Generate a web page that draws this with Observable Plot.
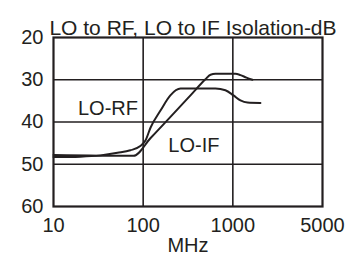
<!DOCTYPE html>
<html>
<head>
<meta charset="utf-8">
<script src="https://cdn.jsdelivr.net/npm/d3@7"></script>
<script src="https://cdn.jsdelivr.net/npm/@observablehq/plot@0.6"></script>
<style>
  html, body { margin: 0; padding: 0; background: #fff; }
</style>
</head>
<body>
<div id="chart"></div>
<script>
const title = "LO to RF, LO to IF Isolation-dB";
const xLabel = "MHz";

// LO-RF curve (MHz, dB)
const rfFreq = [10, 20, 33.4, 51.7, 72, 93, 106, 121, 156, 201, 261, 640, 826, 1016, 1216, 1456, 2031];
const rfDb   = [48.3, 48.2, 47.9, 47.3, 46.7, 45.7, 44.4, 41.3, 37.3, 33.7, 32.1, 32.1, 32.5, 33.7, 34.9, 35.4, 35.5];

// LO-IF curve (MHz, dB)
const ifFreq = [10, 78, 121, 337, 495, 564, 640, 1069, 1216, 1419, 1655];
const ifDb   = [47.8, 48.0, 43.8, 33.7, 29.9, 28.8, 28.6, 28.6, 28.9, 29.5, 30.0];

// axes
const xTicks = [10, 100, 1000, 10000];
const xTickLabels = ["10", "100", "1000", "5000"];
const yTicks = [20, 30, 40, 50, 60];
const xGrid = [100, 1000];
const yGrid = [30, 40, 50];

// curve labels
const curveLabels = ["LO-RF", "LO-IF"];
const labelFreq = [40.5, 368];
const labelDb = [36.9, 45.6];

const ink = "#231f20";
const rf = rfFreq.map((f, i) => ({f, db: rfDb[i]}));
const lif = ifFreq.map((f, i) => ({f, db: ifDb[i]}));
const labels = curveLabels.map((t, i) => ({t, f: labelFreq[i], db: labelDb[i]}));

const chart = Plot.plot({
  width: 349,
  height: 259,
  marginLeft: 53,
  marginRight: 27,
  marginTop: 37,
  marginBottom: 53,
  style: {fontFamily: "'Liberation Sans', Arial, sans-serif", fontSize: "20px", color: ink, background: "#fff"},
  x: {type: "log", domain: [10, 10000], label: null},
  y: {domain: [20, 60], reverse: true, label: null},
  marks: [
    Plot.gridX(xGrid, {stroke: ink, strokeOpacity: 1, strokeWidth: 1.6}),
    Plot.gridY(yGrid, {stroke: ink, strokeOpacity: 1, strokeWidth: 1.6}),
    Plot.frame({stroke: ink, strokeWidth: 2.2}),
    Plot.line(rf, {x: "f", y: "db", curve: "monotone-x", stroke: ink, strokeWidth: 2}),
    Plot.line(lif, {x: "f", y: "db", curve: "monotone-x", stroke: ink, strokeWidth: 2}),
    Plot.text(labels, {x: "f", y: "db", text: "t", fill: ink, fontSize: 20}),
    Plot.axisX(xTicks, {tickSize: 0, tickPadding: 11, tickFormat: (d, i) => xTickLabels[xTicks.indexOf(d)], label: null, fill: ink}),
    Plot.axisY(yTicks, {tickSize: 0, tickPadding: 10, label: null, fill: ink}),
    Plot.text([xLabel], {frameAnchor: "bottom", dy: 45, fill: ink, fontSize: 20}),
    Plot.text([title], {frameAnchor: "top", dx: 5, dy: -17, fill: ink, fontSize: 21})
  ]
});
document.getElementById("chart").appendChild(chart);
</script>
</body>
</html>
